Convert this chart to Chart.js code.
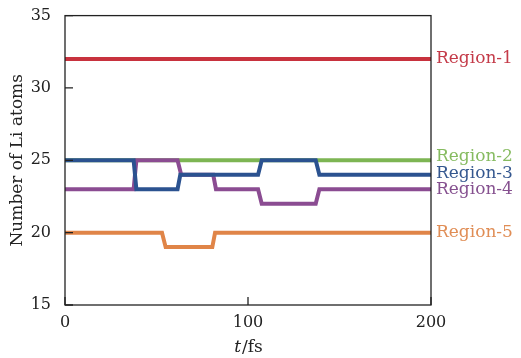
<!DOCTYPE html>
<html lang="en">
<head>
    <meta charset="UTF-8">
    <script src="https://cdn.jsdelivr.net/npm/chart.js@4.4.0/dist/chart.umd.min.js"></script>
    <title>Li atoms per region</title>
    <style>
        body { margin: 0; background: #fff; }
    </style>
</head>
<body>
    <canvas id="myChart" width="521" height="358"></canvas>
<script>
// time axis (fs) and atom counts
var regionNames = ['Region-1', 'Region-2', 'Region-3', 'Region-4', 'Region-5'];
var region1T = [0, 200];
var region1 = [32, 32];
var region2T = [0, 200];
var region2 = [25, 25];
var region3T = [0, 37.5, 39, 61.5, 63, 105.5, 107.5, 137, 139, 200];
var region3 = [25, 25, 23, 23, 24, 24, 25, 25, 24, 24];
var region4T = [0, 37.5, 39, 61.5, 63.5, 81, 82.5, 105.5, 107.5, 137, 139, 200];
var region4 = [23, 23, 25, 25, 24, 24, 23, 23, 22, 22, 23, 23];
var region5T = [0, 53, 55, 80.5, 82, 200];
var region5 = [20, 20, 19, 19, 20, 20];
// where the right-hand labels sit (y value)
var labelY = [32, 25.27, 24.1, 22.95, 20];
var xTicks = [0, 100, 200];
var yTicks = [15, 20, 25, 30, 35];

var colors = ['#c8323e', '#7db553', '#2b5290', '#8b4c92', '#e08548'];
var textColors = ['#c43a48', '#86bb60', '#34578f', '#85508f', '#e08d55'];

function pts(t, v) {
    return t.map(function (x, i) { return { x: x, y: v[i] }; });
}

var series = [
    pts(region1T, region1),
    pts(region2T, region2),
    pts(region3T, region3),
    pts(region4T, region4),
    pts(region5T, region5)
];

var serif = 'DejaVu Serif';
var ink = '#222';

// draws the box, inward ticks, region labels and the x title
var decor = {
    id: 'decor',
    afterDraw: function (chart) {
        var ctx = chart.ctx;
        var a = chart.chartArea;
        var xs = chart.scales.x, ys = chart.scales.y;
        ctx.save();
        ctx.strokeStyle = ink;
        ctx.lineWidth = 1.3;
        ctx.strokeRect(a.left, a.top, a.right - a.left, a.bottom - a.top);
        ctx.beginPath();
        yTicks.forEach(function (v) {
            var y = ys.getPixelForValue(v);
            ctx.moveTo(a.left, y);
            ctx.lineTo(a.left + 8, y);
        });
        xTicks.forEach(function (v) {
            var x = xs.getPixelForValue(v);
            ctx.moveTo(x, a.bottom);
            ctx.lineTo(x, a.bottom - 8);
        });
        ctx.stroke();

        ctx.font = '17px "' + serif + '"';
        ctx.textBaseline = 'middle';
        ctx.textAlign = 'left';
        regionNames.forEach(function (name, i) {
            ctx.fillStyle = textColors[i];
            ctx.fillText(name, a.right + 5, ys.getPixelForValue(labelY[i]));
        });

        // x title: italic t, then /fs
        ctx.fillStyle = ink;
        ctx.textBaseline = 'alphabetic';
        var italic = 'italic 17px "' + serif + '"';
        var upright = '17px "' + serif + '"';
        ctx.font = italic;
        var w1 = ctx.measureText('t').width;
        ctx.font = upright;
        var w2 = ctx.measureText('/fs').width;
        var cx = xs.getPixelForValue(100);
        var x0 = cx - (w1 + w2) / 2;
        ctx.font = italic;
        ctx.fillText('t', x0, 352);
        ctx.font = upright;
        ctx.fillText('/fs', x0 + w1 + 1, 352);
        ctx.restore();
    }
};

var ctx = document.getElementById('myChart').getContext('2d');
var chart = new Chart(ctx, {
    type: 'line',
    data: {
        datasets: series.map(function (d, i) {
            return {
                label: regionNames[i],
                data: d,
                borderColor: colors[i],
                backgroundColor: colors[i],
                borderWidth: 4,
                pointRadius: 0,
                tension: 0,
                order: i === 1 ? 10 : i
            };
        })
    },
    options: {
        responsive: false,
        animation: false,
        layout: { padding: { top: 13, right: 90, left: 0, bottom: 0 } },
        plugins: { legend: { display: false }, tooltip: { enabled: false } },
        scales: {
            x: {
                type: 'linear',
                min: 0,
                max: 200,
                grid: { display: false },
                border: { display: false },
                afterBuildTicks: function (s) { s.ticks = xTicks.map(function (v) { return { value: v }; }); },
                afterFit: function (s) { s.height = 53; },
                ticks: { color: ink, padding: 0, maxRotation: 0, font: { family: serif, size: 16 } }
            },
            y: {
                min: 15,
                max: 35,
                grid: { display: false },
                border: { display: false },
                afterBuildTicks: function (s) { s.ticks = yTicks.map(function (v) { return { value: v }; }); },
                afterFit: function (s) { s.width = 65; },
                title: {
                    display: true,
                    text: 'Number of Li atoms',
                    color: ink,
                    padding: { top: 7, bottom: 0 },
                    font: { family: serif, size: 17 }
                },
                ticks: { color: ink, padding: 6, font: { family: serif, size: 16 } }
            }
        }
    },
    plugins: [decor]
});
</script>
</body>
</html>
